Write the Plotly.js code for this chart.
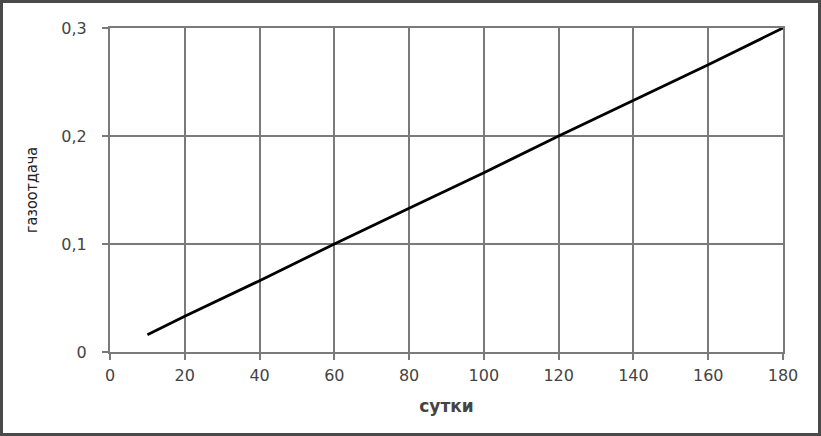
<!DOCTYPE html>
<html>
<head>
<meta charset="utf-8">
<script src="https://cdn.plot.ly/plotly-3.0.1.min.js"></script>
<style>
  body { margin: 0; background: #fff; }
  #wrap { position: relative; width: 821px; height: 436px; }
  #frame { position: absolute; left: 0; top: 0; width: 821px; height: 436px;
           box-sizing: border-box; border: 3px solid #4a4a4a; pointer-events: none; }
</style>
</head>
<body>
<div id="wrap">
  <div id="plot" style="width:821px;height:436px;"></div>
  <div id="frame"></div>
</div>
<script>
// сутки vs газоотдача
const days = [10, 20, 40, 60, 80, 100, 120, 140, 160, 180];
const gasRecovery = [0.016, 0.033, 0.066, 0.1, 0.133, 0.166, 0.2, 0.233, 0.266, 0.3];

const xTicks = [0, 20, 40, 60, 80, 100, 120, 140, 160, 180];
const yTicks = [0, 0.1, 0.2, 0.3];
const yTickText = ['0', '0,1', '0,2', '0,3'];

const gridColor = '#7a7a7a';
const textColor = '#444';

const data = [
    {
        x: days,
        y: gasRecovery,
        type: 'scatter',
        mode: 'lines',
        line: { color: '#000', width: 2.8 },
        hoverinfo: 'x+y'
    }
];

const layout = {
    width: 821,
    height: 436,
    margin: { l: 110, r: 38, t: 28, b: 84 },
    paper_bgcolor: '#fff',
    plot_bgcolor: '#fff',
    separators: ', ',
    showlegend: false,
    font: { family: 'DejaVu Sans, sans-serif', size: 16, color: textColor },
    xaxis: {
        range: [0, 180],
        tickvals: xTicks,
        ticktext: xTicks.map(String),
        showgrid: true,
        gridcolor: gridColor,
        gridwidth: 2,
        showline: true,
        mirror: true,
        linecolor: gridColor,
        linewidth: 2,
        ticks: 'outside',
        ticklen: 6,
        tickwidth: 2,
        tickcolor: gridColor,
        ticklabelstandoff: 2,
        zeroline: false,
        tickfont: { size: 16, color: textColor },
        title: { text: 'сутки', font: { size: 17, color: textColor, weight: 'bold' }, standoff: 16 }
    },
    yaxis: {
        range: [0, 0.3],
        tickvals: yTicks,
        ticktext: yTickText,
        showgrid: true,
        gridcolor: gridColor,
        gridwidth: 2,
        showline: true,
        mirror: true,
        linecolor: gridColor,
        linewidth: 2,
        ticks: 'outside',
        ticklen: 6,
        tickwidth: 2,
        tickcolor: gridColor,
        ticklabelstandoff: 12,
        zeroline: false,
        tickfont: { size: 16, color: textColor },
        title: { text: 'газоотдача', font: { family: 'DejaVu Sans Condensed, sans-serif', size: 16, color: '#222' }, standoff: 20 }
    }
};

Plotly.newPlot('plot', data, layout, { displayModeBar: false, staticPlot: true });
</script>
</body>
</html>
